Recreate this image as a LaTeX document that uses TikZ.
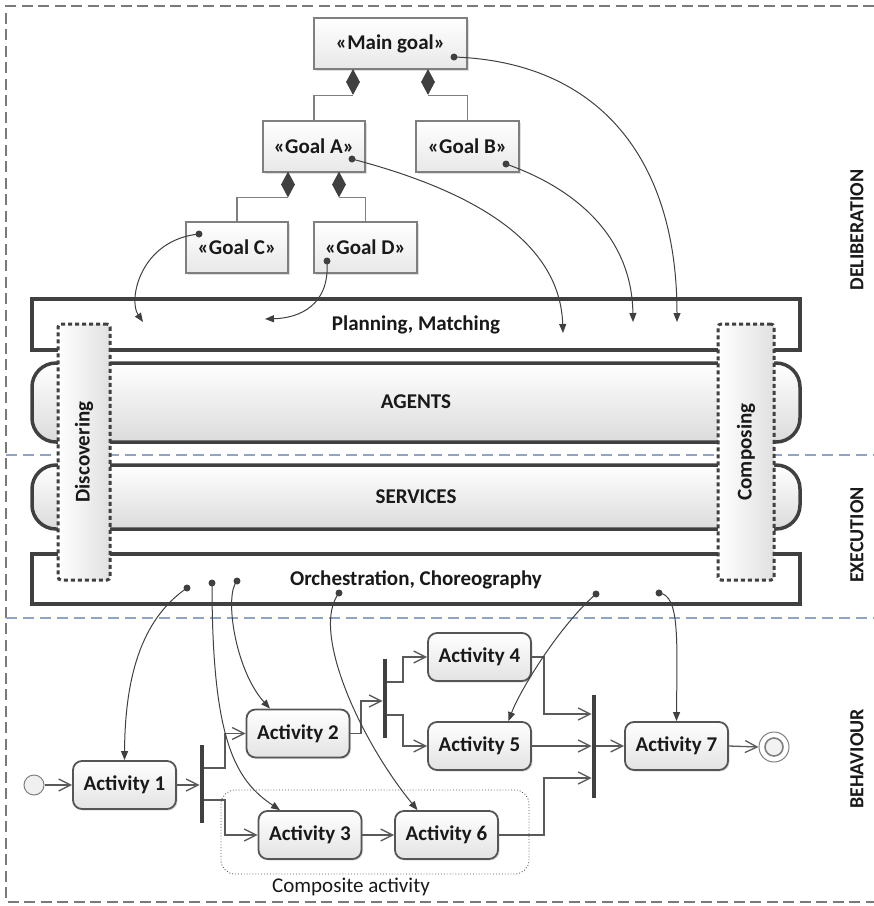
\documentclass[tikz,border=0pt]{standalone}
\usepackage{fontspec}
\setmainfont{Carlito}
\usetikzlibrary{arrows.meta,shapes.geometric,shadows,calc}
\definecolor{ink}{HTML}{404040}
\definecolor{framegray}{HTML}{7A7A7A}
\definecolor{lane}{HTML}{8EA4C8}
\definecolor{boxline}{HTML}{7F7F7F}
\definecolor{actline}{HTML}{555555}
\definecolor{flowline}{HTML}{5A5A5A}
\begin{document}
\begin{tikzpicture}[x=1pt,y=-1pt,
  every node/.style={font=\fontsize{21}{25}\selectfont\bfseries, text=black!90},
  goal/.style={draw=boxline, line width=1.4pt, top color=white, bottom color=gray!18,
    minimum height=51, inner sep=0,
    drop shadow={shadow xshift=1.5pt, shadow yshift=-1.5pt, opacity=0.25}},
  act/.style={draw=actline, line width=1.8pt, rounded corners=9pt, top color=white,
    bottom color=gray!22, minimum width=103, minimum height=48, inner sep=0,
    drop shadow={shadow xshift=1.5pt, shadow yshift=-1.5pt, opacity=0.25}},
  compdiamond/.style={diamond, fill=ink, minimum width=14, minimum height=26, inner sep=0},
  forkbar/.style={fill=ink, minimum width=4.5, inner sep=0},
  band/.style={draw=ink, line width=3.5pt},
  dotbox/.style={draw=ink, line width=3pt, dash pattern=on 4pt off 3pt, rounded corners=3pt,
    left color=white, right color=gray!24, inner sep=0},
  conn/.style={draw=ink, line width=1pt, -{Triangle[length=9pt,width=7pt]}},
  flow/.style={draw=flowline, line width=1.3pt, -{Straight Barb[length=12pt,width=12pt]}},
  tree/.style={draw=boxline, line width=1.3pt},
  lanelabel/.style={rotate=90, font=\fontsize{20}{24}\selectfont\bfseries}
]
\useasboundingbox (0,0) rectangle (874,906);

% outer frame and lane separators
\draw[framegray, line width=2pt, dash pattern=on 11pt off 5.5pt]
  (874,6) -- (6,6) -- (6,902) -- (874,902);
\draw[lane, line width=2pt, dash pattern=on 11pt off 6pt] (6,455) -- (874,455);
\draw[lane, line width=2pt, dash pattern=on 11pt off 6pt] (6,618) -- (874,618);

% layers of the platform
\draw[band, fill=white] (32,299) rectangle (800,350);
\draw[band, top color=white, bottom color=gray!28, rounded corners=24pt] (32,363) rectangle (800,442);
\draw[band, top color=white, bottom color=gray!28, rounded corners=24pt] (32,465) rectangle (800,529);
\draw[band, fill=white] (32,554) rectangle (800,604);

\node (plan) at (416,325) {Planning, Matching};
\node (agents) at (416,402) {AGENTS};
\node (services) at (416,497) {SERVICES};
\node (orch) at (416,580) {Orchestration, Choreography};

\node[dotbox, minimum width=52, minimum height=256] (disc) at (84,452) {};
\node[rotate=90] at (disc) {Discovering};
\node[dotbox, minimum width=56, minimum height=256] (comp) at (746,452) {};
\node[rotate=90] at (comp) {Composing};

% lane labels
\node[lanelabel] at (857,230) {DELIBERATION};
\node[lanelabel] at (857,535) {EXECUTION};
\node[lanelabel] at (857,759) {BEHAVIOUR};

% goal tree
\node[goal, minimum width=153] (gMain) at (390.5,43.5) {«Main goal»};
\node[goal, minimum width=102] (gA) at (314,146.5) {«Goal A»};
\node[goal, minimum width=103] (gB) at (467.5,146.5) {«Goal B»};
\node[goal, minimum width=102] (gC) at (237,247.5) {«Goal C»};
\node[goal, minimum width=103] (gD) at (365.5,247.5) {«Goal D»};

\node[compdiamond] (dMA) at (353,82) {};
\node[compdiamond] (dMB) at (428,82) {};
\node[compdiamond] (dAC) at (288,184.5) {};
\node[compdiamond] (dAD) at (339,184.5) {};
\draw[tree] (dMA.south) -| (gA.north);
\draw[tree] (dMB.south) -| (gB.north);
\draw[tree] (dAC.south) -| (gC.north);
\draw[tree] (dAD.south) -| (gD.north);

% goal to planning links
\coordinate (pMain) at (454,57);
\coordinate (pA) at (352,159);
\coordinate (pB) at (506,164);
\coordinate (pC) at (199,234);
\coordinate (pD) at (327,261);
\coordinate (tMain) at (677,322);
\coordinate (tA) at (563,333);
\coordinate (tB) at (633,322);
\coordinate (tC) at (143,322);
\coordinate (tD) at (265,319);
\foreach \p in {pMain,pA,pB,pC,pD} \fill[ink] (\p) circle (3.5pt);
\draw[conn] (pMain) .. controls (600,62) and (677,160) .. (tMain);
\draw[conn] (pA) .. controls (470,190) and (560,240) .. (tA);
\draw[conn] (pB) .. controls (580,190) and (632,240) .. (tB);
\draw[conn] (pC) .. controls (140,240) and (128,300) .. (tC);
\draw[conn] (pD) .. controls (330,305) and (300,318) .. (tD);

% activity diagram
\node[draw=actline, dotted, line width=0.9pt, rounded corners=14pt, minimum width=308,
  minimum height=84, inner sep=0] (compact) at (375,832) {};
\node[font=\fontsize{21}{25}\selectfont] (complabel) at (351,887) {Composite activity};

\node[circle, draw=gray, fill=gray!12, line width=1pt, minimum size=20, inner sep=0] (init) at (34,785) {};
\node[act] (act1) at (124.5,785) {Activity 1};
\node[act] (act2) at (298,733.5) {Activity 2};
\node[act] (act3) at (310,835) {Activity 3};
\node[act] (act4) at (479.5,657) {Activity 4};
\node[act] (act5) at (479.5,746) {Activity 5};
\node[act] (act6) at (446.5,835) {Activity 6};
\node[act] (act7) at (676.5,746) {Activity 7};
\node[circle, draw=gray, fill=white, line width=1pt, minimum size=30, inner sep=0] (final) at (774,747) {};
\node[circle, draw=gray, fill=gray!10, line width=1.6pt, minimum size=18, inner sep=0] at (final) {};

\node[forkbar, minimum height=78] (fork1) at (202,784) {};
\node[forkbar, minimum height=79] (fork2) at (385,698.5) {};
\node[forkbar, minimum height=103] (join) at (594,746.5) {};

\draw[flow] (init) -- (act1.west);
\draw[flow] (act1.east) -- (act1.east -| fork1.west);
\draw[flow] (fork1.east |- 0,768) -| (225,733.5) -- (act2.west);
\draw[flow] (fork1.east |- 0,800) -| (225,835) -- (act3.west);
\draw[flow] (act3.east) -- (act6.west);
\draw[flow] (act2.east) -| (361,701) -- (fork2.west |- 0,701);
\draw[flow] (fork2.east |- 0,682) -| (403,657) -- (act4.west);
\draw[flow] (fork2.east |- 0,715) -| (403,746) -- (act5.west);
\draw[flow] (act4.east) -| (544,714) -- (join.west |- 0,714);
\draw[flow] (act5.east) -- (act5.east -| join.west);
\draw[flow] (act6.east) -| (544,778) -- (join.west |- 0,778);
\draw[flow] (join.east |- act7.west) -- (act7.west);
\draw[flow] (act7.east) -- (final.west);

% orchestration to activity links
\coordinate (o1) at (187,588);
\coordinate (o2) at (212,583);
\coordinate (o3) at (237,581);
\coordinate (o4) at (339,593);
\coordinate (o5) at (596,594);
\coordinate (o6) at (659,593);
\foreach \p in {o1,o2,o3,o4,o5,o6} \fill[ink] (\p) circle (3.5pt);
\draw[conn] (o1) .. controls (140,620) and (125,680) .. (act1.north);
\draw[conn] (o2) .. controls (212,740) and (235,780) .. ($(act3.north)+(-30,0)$);
\draw[conn] (o3) .. controls (224,595) and (235,670) .. ($(act2.north)+(-28,0)$);
\draw[conn] (o4) .. controls (310,630) and (360,740) .. ($(act6.north)+(-29,0)$);
\draw[conn] (o5) .. controls (560,625) and (520,690) .. ($(act5.north)+(29,0)$);
\draw[conn] (o6) .. controls (680,595) and (677,640) .. (act7.north);
\end{tikzpicture}
\end{document}
